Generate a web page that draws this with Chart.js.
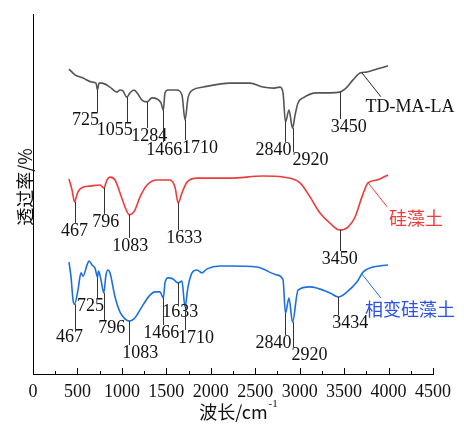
<!DOCTYPE html>
<html>
<head>
<meta charset="utf-8">
<script src="https://cdn.jsdelivr.net/npm/chart.js@4"></script>
<style>
  html, body { margin: 0; padding: 0; background: #fff; }
  #wrap { width: 464px; height: 424px; }
</style>
</head>
<body>
<div id="wrap"><canvas id="c" width="464" height="424"></canvas></div>
<script>
// wavenumber (cm-1) / transmittance readings per sample
const tdWave = [405, 473, 563, 664, 709, 725, 743, 776, 866, 945, 979, 1013, 1055, 1091, 1136, 1170, 1226, 1284, 1339, 1395, 1440, 1466, 1485, 1519, 1620, 1676, 1710, 1744, 1800, 1913, 2216, 2441, 2588, 2700, 2779, 2813, 2840, 2880, 2920, 2948, 2981, 3038, 3195, 3341, 3450, 3533, 3600, 3679, 3758, 3870, 3994];
const tdTrans = [84.7, 83.1, 82.2, 81.1, 80.8, 79.0, 80.8, 80.8, 79.7, 78.3, 78.9, 78.6, 76.9, 78.1, 78.9, 78.1, 76.1, 75.6, 76.7, 76.4, 75.3, 73.3, 78.1, 78.9, 78.9, 77.5, 70.6, 76.7, 78.9, 79.7, 80.8, 80.8, 79.7, 79.4, 79.7, 78.1, 70.0, 73.3, 68.3, 71.9, 75.3, 76.7, 78.1, 78.1, 78.3, 79.7, 81.7, 83.6, 83.9, 84.7, 85.6];

const dtWave = [405, 439, 467, 484, 506, 563, 641, 754, 796, 833, 866, 923, 979, 1035, 1083, 1148, 1204, 1283, 1395, 1541, 1598, 1633, 1676, 1733, 1845, 2025, 2216, 2588, 2813, 3004, 3116, 3229, 3341, 3450, 3544, 3623, 3701, 3769, 3870, 3994];
const dtTrans = [54.2, 51.1, 47.8, 48.9, 50.6, 51.9, 52.2, 52.5, 51.7, 53.9, 54.7, 53.9, 50.3, 46.4, 44.2, 45.6, 49.2, 52.5, 53.9, 53.9, 51.9, 47.5, 50.3, 53.3, 54.4, 54.4, 54.4, 55.0, 54.7, 53.1, 49.2, 44.7, 41.9, 40.0, 40.8, 43.6, 49.2, 53.1, 53.9, 55.3];

const pcmWave = [405, 428, 450, 467, 506, 540, 563, 608, 630, 664, 698, 725, 737, 765, 796, 821, 844, 866, 923, 979, 1035, 1083, 1136, 1170, 1238, 1316, 1373, 1429, 1466, 1485, 1519, 1575, 1633, 1676, 1710, 1744, 1789, 1845, 1901, 1958, 2104, 2216, 2520, 2745, 2813, 2840, 2880, 2920, 2981, 3116, 3341, 3434, 3533, 3645, 3713, 3825, 3994];
const pcmTrans = [31.1, 26.9, 20.6, 19.4, 23.3, 28.1, 27.2, 30.3, 31.4, 30.3, 29.4, 26.9, 28.6, 26.1, 22.5, 27.5, 28.9, 28.1, 21.4, 17.2, 15.3, 14.7, 15.3, 16.4, 19.2, 21.9, 22.8, 22.8, 21.1, 25.3, 26.7, 26.4, 25.3, 25.8, 18.6, 24.2, 28.1, 28.9, 28.1, 29.2, 30.0, 30.0, 29.7, 27.5, 26.1, 16.9, 21.1, 14.4, 23.3, 24.2, 22.5, 21.4, 22.8, 25.6, 28.3, 29.7, 30.3];

const seriesNames = ['TD-MA-LA', '硅藻土', '相变硅藻土'];
const xTicks = [0, 500, 1000, 1500, 2000, 2500, 3000, 3500, 4000, 4500];

const tdPeaks = [725, 1055, 1284, 1466, 1710, 2840, 2920, 3450];
const dtPeaks = [467, 796, 1083, 1633, 3450];
const pcmPeaks = [467, 725, 796, 1083, 1466, 1633, 1710, 2840, 2920, 3434];

// label placement for each peak: [dx, dy] from the curve point, px
const tdPeakPos = [[-12, 31], [-12, 33], [2, 34], [1, 40], [15, 28], [-12, 28], [18, 32], [9, 35]];
const dtPeakPos = [[0, 29], [2, 34], [1, 31], [6, 35], [0, 29]];
const pcmPeakPos = [[-5, 33], [-7, 29], [8, 35], [11, 32], [-2, 35], [2, 29], [11, 31], [-12, 30], [17, 33], [12, 26]];

const COLORS = ['#555555', '#ee3b3b', '#1c6fe0'];
const NAME_COLORS = ['#111111', '#ee3b3b', '#2a50e8'];
const SERIF = '"Liberation Serif", "Times New Roman", "Noto Sans CJK SC", serif';
const CJK = '"Noto Sans CJK SC", "Liberation Serif", serif';

function pts(w, t) { return w.map((x, i) => ({ x, y: t[i] })); }

const waves = [tdWave, dtWave, pcmWave];
const trans = [tdTrans, dtTrans, pcmTrans];
const peaks = [tdPeaks, dtPeaks, pcmPeaks];
const peakPos = [tdPeakPos, dtPeakPos, pcmPeakPos];
const nameAnchor = [3700, 3770, 3700];

function valueAt(si, w) {
  const ws = waves[si], ts = trans[si];
  const i = ws.indexOf(w);
  if (i >= 0) return ts[i];
  for (let k = 1; k < ws.length; k++) {
    if (ws[k] >= w) {
      const f = (w - ws[k - 1]) / (ws[k] - ws[k - 1]);
      return ts[k - 1] + f * (ts[k] - ts[k - 1]);
    }
  }
  return ts[ts.length - 1];
}

const decor = {
  id: 'decor',
  afterDatasetsDraw(chart) {
    const ctx = chart.ctx, xs = chart.scales.x, ys = chart.scales.y;
    const area = chart.chartArea;
    ctx.save();

    // inward tick marks
    ctx.strokeStyle = '#000';
    ctx.lineWidth = 1;
    for (let v = 0; v <= 4500; v += 250) {
      const px = Math.round(xs.getPixelForValue(v)) + 0.5;
      const len = v % 500 === 0 ? 6 : 3;
      ctx.beginPath();
      ctx.moveTo(px, area.bottom);
      ctx.lineTo(px, area.bottom - len);
      ctx.stroke();
    }

    // peak markers
    ctx.font = '18px ' + SERIF;
    ctx.textAlign = 'center';
    ctx.textBaseline = 'middle';
    peaks.forEach((list, si) => {
      list.forEach((w, k) => {
        const px = xs.getPixelForValue(w);
        const py = ys.getPixelForValue(valueAt(si, w));
        const [dx, dy] = peakPos[si][k];
        ctx.strokeStyle = '#333';
        ctx.beginPath();
        ctx.moveTo(Math.round(px) + 0.5, py);
        ctx.lineTo(Math.round(px) + 0.5, py + dy - 8);
        ctx.stroke();
        ctx.fillStyle = '#111';
        ctx.fillText(String(w), px + dx, py + dy);
      });
    });

    // series names with leader lines
    seriesNames.forEach((name, si) => {
      const w = nameAnchor[si];
      const px = xs.getPixelForValue(w);
      const py = ys.getPixelForValue(valueAt(si, w));
      ctx.strokeStyle = si === 0 ? '#222' : COLORS[si];
      ctx.beginPath();
      ctx.moveTo(px, py);
      ctx.lineTo(px + 19, py + 24);
      ctx.stroke();
      ctx.fillStyle = NAME_COLORS[si];
      ctx.font = (si === 0 ? '18px ' + SERIF : '18px ' + CJK);
      ctx.textAlign = 'center';
      ctx.fillText(name, px + 48, py + 35);
    });

    // axis titles
    ctx.fillStyle = '#111';
    ctx.save();
    ctx.translate(25, 187);
    ctx.rotate(-Math.PI / 2);
    ctx.font = '18px ' + CJK;
    ctx.textAlign = 'center';
    ctx.fillText('透过率/%', 0, 0);
    ctx.restore();

    ctx.font = '18px ' + CJK;
    const t1 = '波长/cm';
    const w1 = ctx.measureText(t1).width;
    ctx.font = '11px ' + SERIF;
    const w2 = ctx.measureText('-1').width;
    const cx = (area.left + area.right) / 2 + 5;
    const x0 = cx - (w1 + w2) / 2;
    ctx.textAlign = 'left';
    ctx.font = '18px ' + CJK;
    ctx.fillText(t1, x0, 412);
    ctx.font = '11px ' + SERIF;
    ctx.fillText('-1', x0 + w1 + 1, 404);

    ctx.restore();
  }
};

new Chart(document.getElementById('c'), {
  type: 'line',
  data: {
    datasets: seriesNames.map((n, i) => ({
      label: n,
      data: pts(waves[i], trans[i]),
      borderColor: COLORS[i],
      borderWidth: 1.6,
      pointRadius: 0,
      fill: false,
      cubicInterpolationMode: 'monotone'
    }))
  },
  options: {
    responsive: false,
    animation: false,
    events: [],
    layout: { padding: { left: 33, right: 31, top: 14, bottom: 0 } },
    plugins: { legend: { display: false }, tooltip: { enabled: false } },
    scales: {
      x: {
        type: 'linear', min: 0, max: 4500,
        afterBuildTicks: (s) => { s.ticks = xTicks.map(v => ({ value: v })); },
        afterFit: (s) => { s.height = 50; },
        grid: { display: false, drawTicks: false },
        border: { display: true, color: '#000', width: 1 },
        ticks: {
          color: '#111', padding: 7, maxRotation: 0, autoSkip: false,
          font: { family: SERIF, size: 18 },
          callback: (v) => String(v)
        }
      },
      y: {
        type: 'linear', min: 0, max: 100,
        afterFit: (s) => { s.width = 0; },
        grid: { display: false, drawTicks: false },
        border: { display: true, color: '#000', width: 1 },
        ticks: { display: false }
      }
    }
  },
  plugins: [decor]
});
</script>
</body>
</html>
